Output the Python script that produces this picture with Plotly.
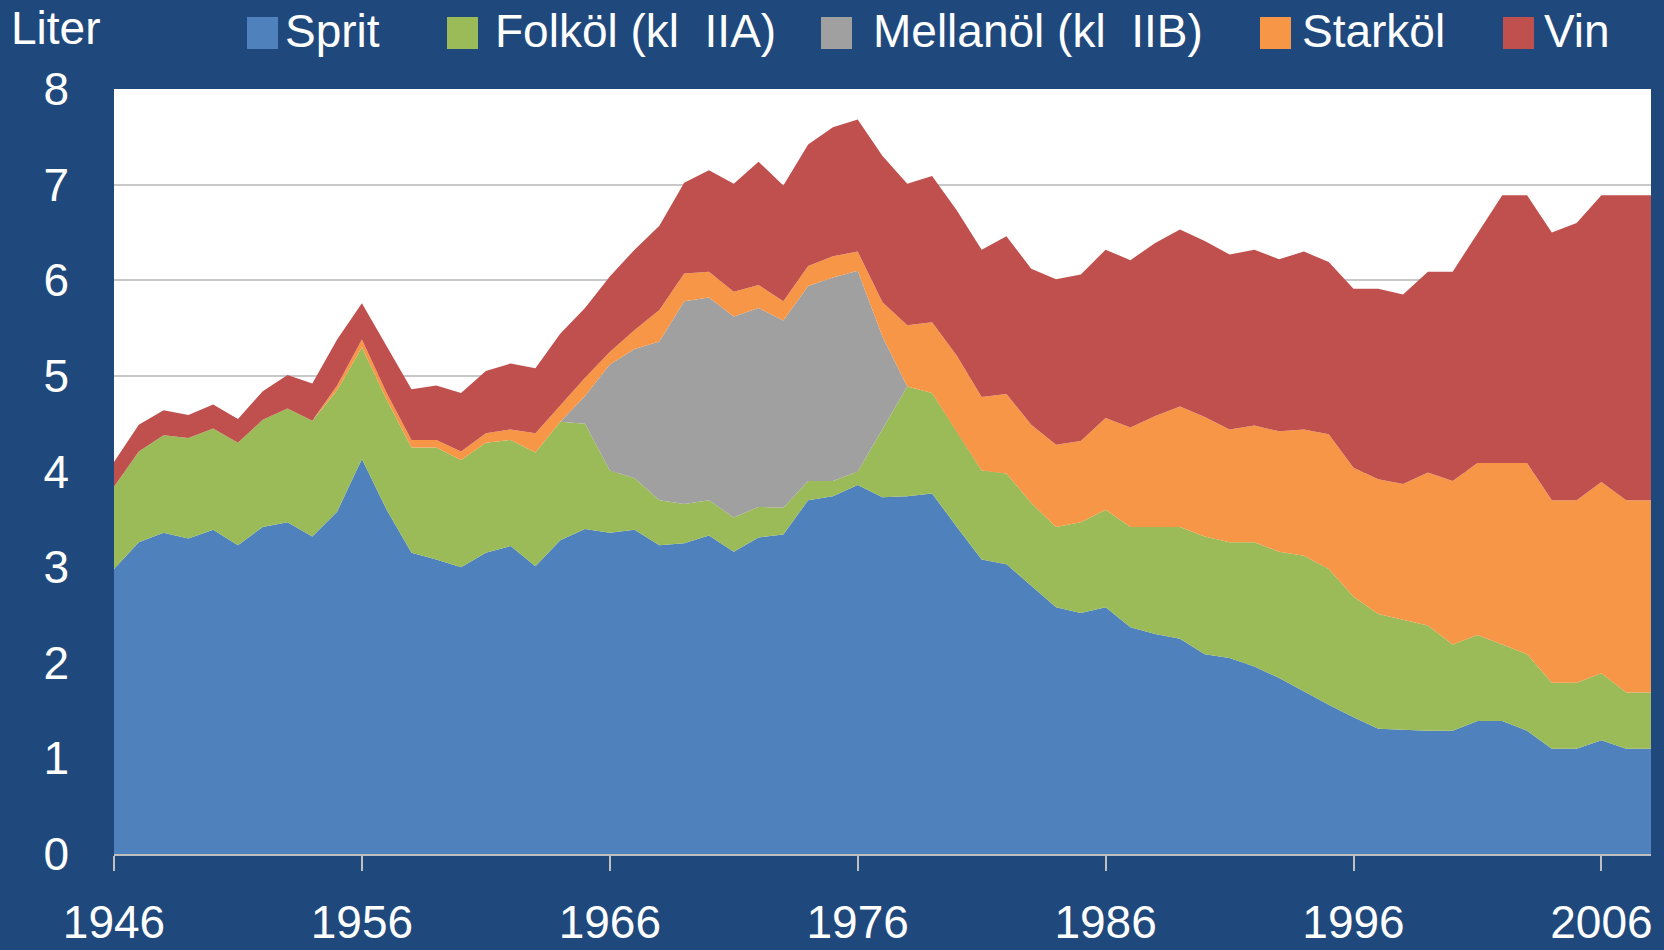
import plotly.graph_objects as go

years = list(range(1946, 2009))

sprit = [2.98, 3.26, 3.36, 3.30, 3.39, 3.23, 3.42, 3.47, 3.32, 3.58,
         4.13, 3.60, 3.15, 3.08, 3.00, 3.15, 3.22, 3.01, 3.28, 3.40,
         3.36, 3.39, 3.23, 3.25, 3.33, 3.16, 3.31, 3.34, 3.70, 3.74,
         3.86, 3.73, 3.74, 3.77, 3.42, 3.08, 3.03, 2.80, 2.58, 2.52,
         2.58, 2.37, 2.30, 2.25, 2.09, 2.05, 1.96, 1.84, 1.70, 1.56,
         1.43, 1.31, 1.30, 1.29, 1.29, 1.39, 1.39, 1.29, 1.10, 1.10,
         1.19, 1.10, 1.10]

folkol = [0.86, 0.95, 1.02, 1.05, 1.06, 1.07, 1.12, 1.19, 1.21, 1.27,
          1.17, 1.15, 1.10, 1.17, 1.12, 1.15, 1.11, 1.19, 1.24, 1.10,
          0.65, 0.54, 0.47, 0.41, 0.37, 0.36, 0.32, 0.28, 0.20, 0.16,
          0.14, 0.71, 1.15, 1.05, 0.99, 0.93, 0.95, 0.87, 0.84, 0.95,
          1.02, 1.05, 1.12, 1.17, 1.23, 1.21, 1.30, 1.32, 1.42, 1.42,
          1.26, 1.20, 1.15, 1.10, 0.90, 0.90, 0.80, 0.80, 0.69, 0.69,
          0.70, 0.59, 0.59]

mellanol = [0, 0, 0, 0, 0, 0, 0, 0, 0, 0,
            0, 0, 0, 0, 0, 0, 0, 0, 0, 0.29,
            1.11, 1.35, 1.66, 2.12, 2.12, 2.10, 2.08, 1.96, 2.04, 2.13,
            2.10, 0.97, 0, 0, 0, 0, 0, 0, 0, 0,
            0, 0, 0, 0, 0, 0, 0, 0, 0, 0,
            0, 0, 0, 0, 0, 0, 0, 0, 0, 0,
            0, 0, 0]

starkol = [0, 0, 0, 0, 0, 0, 0, 0, 0, 0.05,
           0.08, 0.07, 0.08, 0.08, 0.09, 0.10, 0.11, 0.20, 0.17, 0.19,
           0.13, 0.20, 0.33, 0.29, 0.27, 0.26, 0.24, 0.20, 0.21, 0.22,
           0.20, 0.36, 0.64, 0.74, 0.80, 0.77, 0.83, 0.82, 0.86, 0.85,
           0.96, 1.04, 1.16, 1.26, 1.25, 1.18, 1.22, 1.26, 1.32, 1.41,
           1.35, 1.41, 1.42, 1.60, 1.71, 1.80, 1.90, 2.00, 1.91, 1.91,
           2.00, 2.01, 2.01]

vin = [0.26, 0.28, 0.26, 0.24, 0.25, 0.25, 0.30, 0.35, 0.39, 0.48,
       0.38, 0.49, 0.53, 0.57, 0.61, 0.65, 0.69, 0.68, 0.75, 0.73,
       0.79, 0.84, 0.88, 0.95, 1.06, 1.13, 1.29, 1.21, 1.27, 1.35,
       1.38, 1.53, 1.48, 1.53, 1.52, 1.54, 1.65, 1.63, 1.73, 1.74,
       1.76, 1.75, 1.81, 1.85, 1.84, 1.83, 1.84, 1.80, 1.86, 1.80,
       1.87, 1.99, 1.98, 2.10, 2.19, 2.40, 2.80, 2.80, 2.80, 2.90,
       3.00, 3.19, 3.19]

series_names = ["Sprit", "Folköl (kl\u00a0 IIA)", "Mellanöl (kl\u00a0 IIB)", "Starköl", "Vin"]
series_values = [sprit, folkol, mellanol, starkol, vin]
series_colors = ["#4F81BD", "#9BBB59", "#A0A0A0", "#F79646", "#C0504D"]

x_tickvals = [1946, 1956, 1966, 1976, 1986, 1996, 2006]
x_ticktext = ["1946", "1956", "1966", "1976", "1986", "1996", "2006"]
y_tickvals = [0, 1, 2, 3, 4, 5, 6, 7, 8]
y_label = "Liter"

W, H = 1664, 950
L, R, T, B = 114, 13, 89, 96
BG = "#1F497D"
FONT = "Liberation Sans, Arial, Helvetica, sans-serif"
FS = 46

fig = go.Figure()
for name, vals, col in zip(series_names, series_values, series_colors):
    fig.add_trace(go.Scatter(
        x=years, y=vals, name=name, mode="lines",
        stackgroup="one", line=dict(width=0, color=col),
        fillcolor=col, showlegend=False, hoverinfo="x+y+name"))

def px2paper(px, py):
    return (px - L) / (W - L - R), (H - B - py) / (H - T - B)

shapes = []
annotations = []
# legend (manual, to match layout)
leg_sq_x = [247, 447, 821, 1260, 1503]
leg_txt_x = [283, 493, 871, 1300, 1542]
for name, col, sx, tx in zip(series_names, series_colors, leg_sq_x, leg_txt_x):
    x0, y0 = px2paper(sx, 49)
    x1, y1 = px2paper(sx + 31, 17)
    shapes.append(dict(type="rect", xref="paper", yref="paper",
                       x0=x0, x1=x1, y0=y0, y1=y1,
                       fillcolor=col, line=dict(width=0)))
    ax, ay = px2paper(tx, 31)
    annotations.append(dict(text=name, xref="paper", yref="paper",
                            x=ax, y=ay, xanchor="left", yanchor="middle",
                            showarrow=False,
                            font=dict(family=FONT, size=46, color="white")))

lx, ly = px2paper(9, 28)
annotations.append(dict(text=y_label, xref="paper", yref="paper",
                        x=lx, y=ly, xanchor="left", yanchor="middle",
                        showarrow=False,
                        font=dict(family=FONT, size=46, color="white")))

fig.update_layout(
    width=W, height=H,
    margin=dict(l=L, r=R, t=T, b=B, pad=0),
    paper_bgcolor=BG, plot_bgcolor="white",
    shapes=shapes, annotations=annotations,
    font=dict(family=FONT, size=FS, color="white"),
    xaxis=dict(range=[1946, 2008], tickvals=x_tickvals, ticktext=x_ticktext,
               ticks="outside", ticklen=15, tickwidth=2, tickcolor="#BFBFBF",
               showline=True, linecolor="#BFBFBF", linewidth=2,
               showgrid=False, zeroline=False, ticklabelstandoff=12,
               automargin=False,
               tickfont=dict(family=FONT, size=FS, color="white")),
    yaxis=dict(range=[0, 8], tickvals=y_tickvals,
               showgrid=True, gridcolor="#C8C8C8", gridwidth=2,
               zeroline=False, showline=False, ticks="",
               ticklabelstandoff=44, automargin=False,
               tickfont=dict(family=FONT, size=FS, color="white")),
)

fig.write_html(
    "out.html",
    config={"displayModeBar": False},
    post_script="document.body.style.margin='0';document.body.style.background='#1F497D';",
)
